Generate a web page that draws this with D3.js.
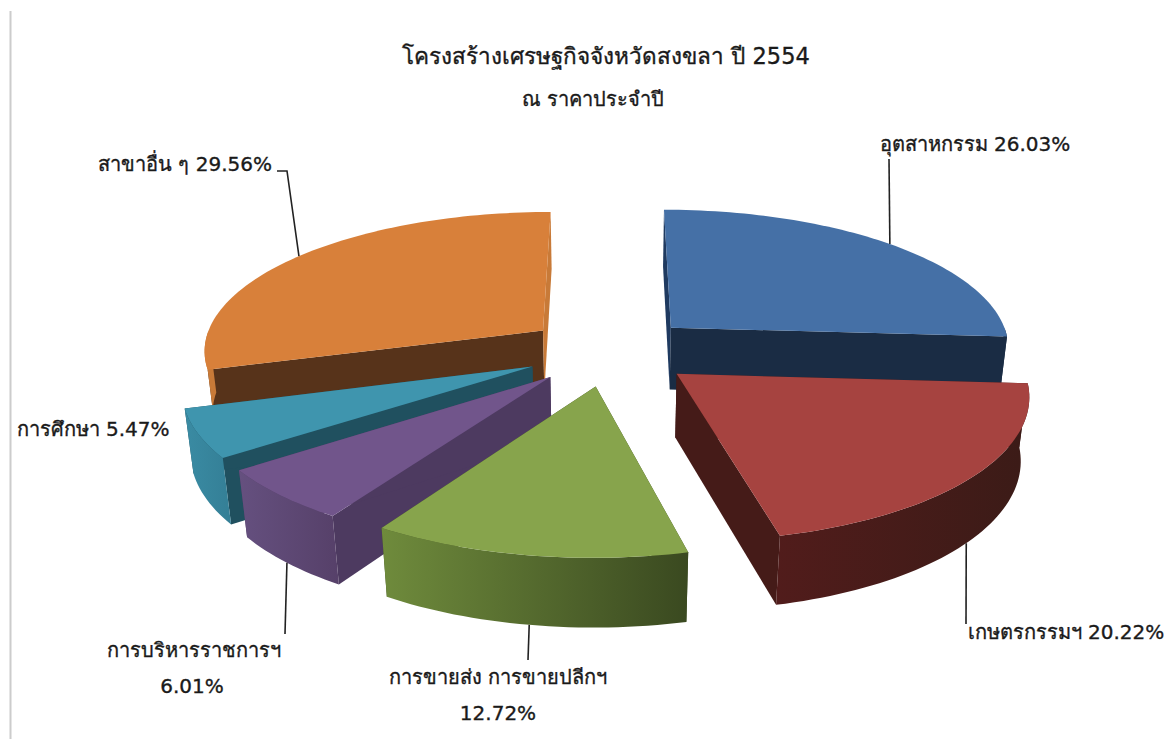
<!DOCTYPE html>
<html>
<head>
<meta charset="utf-8">
<script src="https://cdn.jsdelivr.net/npm/d3@7"></script>
<style>
  html, body { margin: 0; background: #fff; }
  text { font-family: "DejaVu Sans", "Noto Sans", sans-serif; fill: #1a1a1a; }
</style>
</head>
<body>
<script>
const width = 1173, height = 739;

// data
const categories = ["อุตสาหกรรม", "เกษตรกรรมฯ", "การขายส่ง การขายปลีกฯ", "การบริหารราชการฯ", "การศึกษา", "สาขาอื่น ๆ"];
const shares = [26.03, 20.22, 12.72, 6.01, 5.47, 29.56];
const shareLabels = ["26.03%", "20.22%", "12.72%", "6.01%", "5.47%", "29.56%"];
const chartTitle = "โครงสร้างเศรษฐกิจจังหวัดสงขลา ปี 2554";
const chartSubtitle = "ณ ราคาประจำปี";

// colours, one per slice
const topColors = ["#4570a6", "#a64340", "#87a44c", "#71558b", "#3f95ae", "#d8803a"];
const startCutColors = ["#1f3a60", "#3d1a17", "#3d4c22", "#4d3a60", "#20505f", "#57331a"];
const endCutColors = ["#1a2c44", "#451b18", "#3d4c22", "#4d3a60", "#20505f", "#c87a38"];
const wallLeftColors = ["#1a2c44", "#511c1b", "#6f8b3c", "#65507f", "#3a8ba3", "#c87a38"];
const wallRightColors = ["#1a2c44", "#3b1b17", "#3a4920", "#564069", "#347f96", "#c87a38"];
const drawOrder = [5, 0, 4, 3, 1, 2];

// projection of the tilted pie
const explode = 0.25, tilt = 0.13, sink = 0.02, thickness = 64;
const xScale = d3.scaleLinear().domain([-1, 1]).range([610 - 341, 610 + 341]);
const yScale = d3.scaleLinear().domain([-1, 1]).range([351 - 139, 351 + 139]);

function project(d, angle, r, z) {
    const mid = (d.startAngle + d.endAngle) / 2;
    const u = explode * Math.sin(mid) + r * Math.sin(angle);
    const v = -explode * Math.cos(mid) - r * Math.cos(angle);
    const p = 1 / (1 - tilt * v + sink * z);
    return [xScale(u * p), yScale(v * p) + thickness * z * p];
}

const pie = d3.pie().sort(null).value(v => v);
const slices = pie(shares);

const line = d3.line();

function arcPoints(d, a0, a1, z) {
    const n = Math.max(2, Math.ceil((a1 - a0) * 40));
    return d3.range(n + 1).map(i => project(d, a0 + (a1 - a0) * i / n, 1, z));
}

const svg = d3.select("body")
    .append("svg")
    .attr("width", width)
    .attr("height", height)
    .style("display", "block");

const defs = svg.append("defs");

// frame line on the left
svg.append("line")
    .attr("x1", 10.5).attr("x2", 10.5)
    .attr("y1", 11).attr("y2", height)
    .attr("stroke", "#cccccc")
    .attr("stroke-width", 2);

// slices, back to front
drawOrder.forEach(i => {
    const d = slices[i];
    const g = svg.append("g").attr("class", "slice");

    const gradient = defs.append("linearGradient").attr("id", "wall" + i);
    gradient.append("stop").attr("offset", "0%").attr("stop-color", wallLeftColors[i]);
    gradient.append("stop").attr("offset", "100%").attr("stop-color", wallRightColors[i]);

    // cut faces
    [[d.startAngle, startCutColors[i]], [d.endAngle, endCutColors[i]]].forEach(([a, color]) => {
        g.append("path")
            .attr("d", line([
                project(d, 0, 0, 0), project(d, a, 1, 0),
                project(d, a, 1, 1), project(d, 0, 0, 1)
            ]) + "Z")
            .attr("fill", color);
    });

    // outer wall, only the part that faces the viewer
    const a0 = Math.max(d.startAngle, Math.PI / 2);
    const a1 = Math.min(d.endAngle, Math.PI * 1.5);
    if (a1 > a0) {
        const wallTop = arcPoints(d, a0, a1, 0);
        const wallBottom = arcPoints(d, a0, a1, 1).reverse();
        g.append("path")
            .attr("d", line(wallTop.concat(wallBottom)) + "Z")
            .attr("fill", `url(#wall${i})`);
    }

    // top face
    g.append("path")
        .attr("d", line([project(d, 0, 0, 0)].concat(arcPoints(d, d.startAngle, d.endAngle, 0))) + "Z")
        .attr("fill", topColors[i]);
});

// leader lines start at the slice's mid angle, on the top or bottom edge, and run out to the label
const leaders = [
    { slice: 0, z: 0, to: [[889, 159]] },
    { slice: 1, z: 1, to: [[966, 624]] },
    { slice: 2, z: 1, to: [[528, 660]] },
    { slice: 3, z: 1, to: [[285, 634]] },
    { slice: 5, z: 0, to: [[287, 171], [277, 171]] }
];

leaders.forEach(l => {
    const d = slices[l.slice];
    const a = (d.startAngle + d.endAngle) / 2;
    svg.append("path")
        .attr("d", line([project(d, a, 1, l.z)].concat(l.to)))
        .attr("fill", "none")
        .attr("stroke", "#222")
        .attr("stroke-width", 1.6);
});

// text
function addText(str, x, y, size) {
    svg.append("text")
        .attr("x", x)
        .attr("y", y)
        .attr("text-anchor", "middle")
        .attr("font-size", size)
        .style("stroke", "#1a1a1a")
        .style("stroke-width", 0.35)
        .text(str);
}

addText(chartTitle, 606, 64, 22.5);
addText(chartSubtitle, 593, 106, 20);

addText(categories[0] + " " + shareLabels[0], 975, 151, 20);
addText(categories[1] + " " + shareLabels[1], 1066, 639, 20);
addText(categories[2], 498, 684, 20);
addText(shareLabels[2], 498, 720, 20);
addText(categories[3], 194, 657, 20);
addText(shareLabels[3], 192, 693, 20);
addText(categories[4] + " " + shareLabels[4], 93, 436, 20);
addText(categories[5] + " " + shareLabels[5], 185, 171, 20);
</script>
</body>
</html>
